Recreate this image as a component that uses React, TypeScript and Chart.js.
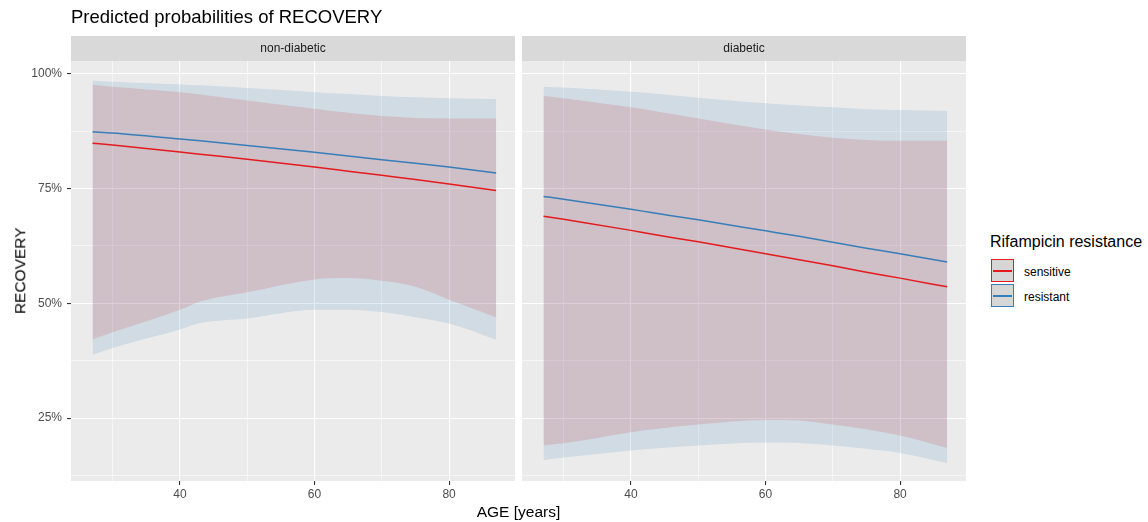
import React, { useEffect, useRef } from 'react';
import { Chart, registerables } from 'chart.js';

Chart.register(...registerables);

// ---------------- data ----------------
const ages = [27, 30, 40, 43, 50, 60, 65, 70, 75, 80, 87];
const facetNames = ['non-diabetic', 'diabetic'];
const seriesNames = ['sensitive', 'resistant'];
const seriesColors = ['#E41A1C', '#377EB8'];
const seriesFills = ['rgba(228,26,28,0.15)', 'rgba(55,126,184,0.15)'];

// non-diabetic
const ndSensitive = [84.9, 84.5, 83.0, 82.5, 81.4, 79.7, 78.8, 77.9, 77.0, 76.0, 74.6];
const ndSensitiveHigh = [97.6, 97.2, 96.0, 95.5, 94.2, 92.4, 91.5, 90.8, 90.4, 90.3, 90.3];
const ndSensitiveLow = [42.2, 43.7, 48.6, 50.4, 52.4, 55.2, 55.5, 54.9, 53.6, 50.8, 47.0];
const ndResistant = [87.4, 87.1, 85.8, 85.4, 84.4, 82.9, 82.1, 81.3, 80.5, 79.7, 78.4];
const ndResistantHigh = [98.5, 98.3, 97.7, 97.5, 96.9, 96.0, 95.6, 95.2, 94.9, 94.7, 94.5];
const ndResistantLow = [38.8, 40.3, 44.3, 45.7, 46.7, 48.6, 48.6, 48.1, 47.0, 45.6, 42.1];

// diabetic
const dSensitive = [69.0, 68.3, 65.9, 65.1, 63.4, 60.8, 59.5, 58.2, 56.8, 55.5, 53.6];
const dSensitiveHigh = [95.2, 94.7, 92.7, 92.0, 90.3, 87.9, 86.9, 86.1, 85.6, 85.4, 85.4];
const dSensitiveLow = [19.05, 19.5, 21.9, 22.5, 23.6, 24.6, 24.5, 23.6, 22.6, 21.2, 18.5];
const dResistant = [73.3, 72.7, 70.5, 69.8, 68.2, 65.8, 64.6, 63.3, 62.0, 60.8, 59.0];
const dResistantHigh = [97.2, 97.0, 96.1, 95.8, 94.8, 93.6, 93.1, 92.7, 92.3, 92.1, 91.9];
const dResistantLow = [15.9, 16.4, 17.95, 18.3, 19.05, 19.7, 19.6, 19.05, 18.3, 17.4, 15.2];

const yMajorTicks = [25, 50, 75, 100];
const yMinorTicks = [12.5, 37.5, 62.5, 87.5];
const xMajorTicks = [40, 60, 80];
const xMinorTicks = [30, 50, 70];

const facetSeries = [
  {
    lines: [ndSensitive, ndResistant],
    highs: [ndSensitiveHigh, ndResistantHigh],
    lows: [ndSensitiveLow, ndResistantLow],
  },
  {
    lines: [dSensitive, dResistant],
    highs: [dSensitiveHigh, dResistantHigh],
    lows: [dSensitiveLow, dResistantLow],
  },
];

// ---------------- styling ----------------
const FONT = '"Liberation Sans", Arial, Helvetica, sans-serif';
const X_MIN = 23.8;
const X_MAX = 89.8;
const Y_MIN = 11.3;
const Y_MAX = 102.8;

const pts = (vals: number[]) => ages.map((a, i) => ({ x: a, y: vals[i] }));

const panelBackground = {
  id: 'panelBackground',
  beforeDraw(chart: any) {
    const { ctx, chartArea: a } = chart;
    ctx.save();
    ctx.fillStyle = '#EBEBEB';
    ctx.fillRect(a.left, a.top, a.right - a.left, a.bottom - a.top);
    const tb = chart.titleBlock;
    if (tb) {
      ctx.fillStyle = '#D9D9D9';
      ctx.fillRect(a.left, tb.top, a.right - a.left, tb.bottom - tb.top);
    }
    ctx.restore();
  },
};

type PanelProps = {
  facet: number;
  left: number;
  width: number;
  showY: boolean;
  padRight: number;
};

function Panel({ facet, left, width, showY, padRight }: PanelProps) {
  const ref = useRef<HTMLCanvasElement | null>(null);

  useEffect(() => {
    if (!ref.current) return;
    const s = facetSeries[facet];
    const datasets: any[] = [];
    seriesNames.forEach((name, i) => {
      datasets.push({
        label: name,
        data: pts(s.lines[i]),
        borderColor: seriesColors[i],
        borderWidth: 1.5,
        pointRadius: 0,
        fill: false,
        cubicInterpolationMode: 'monotone',
        order: i === 0 ? 1 : 0,
      });
    });
    seriesNames.forEach((name, i) => {
      datasets.push({
        label: name + ' upper',
        data: pts(s.highs[i]),
        borderColor: 'rgba(0,0,0,0)',
        borderWidth: 0,
        backgroundColor: seriesFills[i],
        pointRadius: 0,
        fill: '+1',
        cubicInterpolationMode: 'monotone',
        order: i === 0 ? 4 : 3,
      });
      datasets.push({
        label: name + ' lower',
        data: pts(s.lows[i]),
        borderColor: 'rgba(0,0,0,0)',
        borderWidth: 0,
        pointRadius: 0,
        fill: false,
        cubicInterpolationMode: 'monotone',
        order: i === 0 ? 4 : 3,
      });
    });

    const isMajorX = (v: number) => xMajorTicks.includes(v);
    const isMajorY = (v: number) => yMajorTicks.includes(v);

    const chart = new Chart(ref.current, {
      type: 'line',
      data: { datasets },
      plugins: [panelBackground],
      options: {
        animation: false,
        responsive: false,
        devicePixelRatio: 1,
        events: [],
        layout: { padding: { top: 36, right: padRight, left: 0, bottom: 0 } },
        plugins: {
          legend: { display: false },
          tooltip: { enabled: false },
          title: {
            display: true,
            text: facetNames[facet],
            fullSize: false,
            align: 'center',
            color: '#1A1A1A',
            font: { family: FONT, size: 12, weight: 'normal', lineHeight: 1.2 },
            padding: { top: 5.3, bottom: 5.3 },
          },
        },
        scales: {
          x: {
            type: 'linear',
            min: X_MIN,
            max: X_MAX,
            afterBuildTicks: (sc: any) => {
              sc.ticks = [...xMinorTicks, ...xMajorTicks]
                .sort((a, b) => a - b)
                .map((v) => ({ value: v }));
            },
            afterFit: (sc: any) => {
              sc.height = 41;
            },
            border: { display: false },
            grid: {
              color: '#FFFFFF',
              lineWidth: (c: any) => (c.tick && isMajorX(c.tick.value) ? 1.1 : 0.55),
              tickLength: 4,
              tickWidth: 1.1,
              tickColor: (c: any) =>
                c.tick && isMajorX(c.tick.value) ? '#333333' : 'rgba(0,0,0,0)',
            },
            ticks: {
              autoSkip: false,
              maxRotation: 0,
              color: '#4D4D4D',
              padding: 2,
              font: { family: FONT, size: 12 },
              callback: (v: any) => (isMajorX(Number(v)) ? String(v) : ''),
            },
          },
          y: {
            type: 'linear',
            min: Y_MIN,
            max: Y_MAX,
            afterBuildTicks: (sc: any) => {
              sc.ticks = [...yMinorTicks, ...yMajorTicks]
                .sort((a, b) => a - b)
                .map((v) => ({ value: v }));
            },
            afterFit: (sc: any) => {
              sc.width = showY ? 71 : 6;
            },
            border: { display: false },
            grid: {
              color: '#FFFFFF',
              drawTicks: showY,
              lineWidth: (c: any) => (c.tick && isMajorY(c.tick.value) ? 1.1 : 0.55),
              tickLength: 4,
              tickWidth: 1.1,
              tickColor: (c: any) =>
                c.tick && isMajorY(c.tick.value) ? '#333333' : 'rgba(0,0,0,0)',
            },
            ticks: {
              display: showY,
              autoSkip: false,
              color: '#4D4D4D',
              padding: 5,
              font: { family: FONT, size: 12 },
              callback: (v: any) => (isMajorY(Number(v)) ? `${v}%` : ''),
            },
          },
        },
      } as any,
    });
    return () => chart.destroy();
  }, [facet, showY, padRight]);

  return (
    <div style={{ position: 'absolute', left, top: 0, width, height: 522 }}>
      <canvas
        ref={ref}
        width={width}
        height={522}
        style={{ width, height: 522, display: 'block' }}
      />
    </div>
  );
}

function LegendKey({ color }: { color: string }) {
  return (
    <div
      style={{
        position: 'absolute',
        left: 0,
        top: 0,
        width: 23,
        height: 23,
        boxSizing: 'border-box',
        border: `1px solid ${color}`,
        background: '#D6D6D6',
      }}
    >
      <div
        style={{
          position: 'absolute',
          left: 1,
          right: 1,
          top: 10,
          height: 1.5,
          background: color,
        }}
      />
    </div>
  );
}

export default function App() {
  return (
    <div
      style={{
        position: 'absolute',
        left: 0,
        top: 0,
        width: 1148,
        height: 522,
        background: '#FFFFFF',
        fontFamily: FONT,
        overflow: 'hidden',
      }}
    >
      <Panel facet={0} left={0} width={520} showY={true} padRight={5} />
      <Panel facet={1} left={516} width={460} showY={false} padRight={10} />

      <div
        style={{
          position: 'absolute',
          left: 71,
          top: 8.3,
          fontSize: 18.5,
          lineHeight: '18.5px',
          color: '#000',
          whiteSpace: 'nowrap',
        }}
      >
        Predicted probabilities of RECOVERY
      </div>

      <div
        style={{
          position: 'absolute',
          left: 418.5,
          width: 200,
          top: 504,
          fontSize: 15.5,
          lineHeight: '15.5px',
          textAlign: 'center',
          color: '#000',
          whiteSpace: 'nowrap',
        }}
      >
        AGE [years]
      </div>

      <div
        style={{
          position: 'absolute',
          left: -80.35,
          top: 263.25,
          width: 200,
          height: 15.5,
          fontSize: 15.5,
          lineHeight: '15.5px',
          textAlign: 'center',
          color: '#000',
          whiteSpace: 'nowrap',
          transform: 'rotate(-90deg)',
        }}
      >
        RECOVERY
      </div>

      <div
        style={{
          position: 'absolute',
          left: 990,
          top: 233.5,
          fontSize: 16,
          lineHeight: '16px',
          color: '#000',
          whiteSpace: 'nowrap',
        }}
      >
        Rifampicin resistance
      </div>
      {seriesNames.map((name, i) => (
        <div
          key={name}
          style={{ position: 'absolute', left: 991, top: 259 + i * 25, width: 150, height: 23 }}
        >
          <LegendKey color={seriesColors[i]} />
          <div
            style={{
              position: 'absolute',
              left: 33,
              top: 6.5,
              fontSize: 12,
              lineHeight: '12px',
              color: '#000',
              whiteSpace: 'nowrap',
            }}
          >
            {name}
          </div>
        </div>
      ))}
    </div>
  );
}
